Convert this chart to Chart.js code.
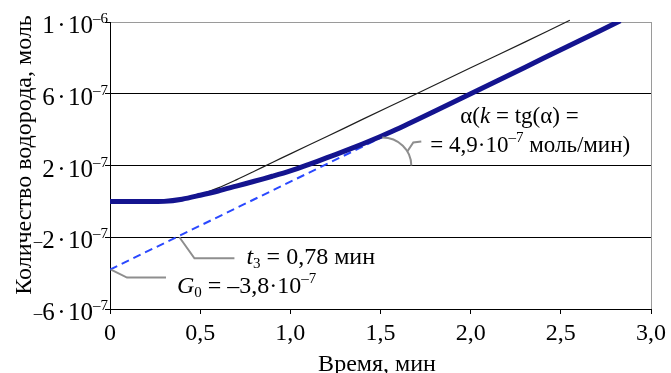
<!DOCTYPE html>
<html>
<head>
<meta charset="utf-8">
<script src="https://cdn.jsdelivr.net/npm/chart.js@4.4.1/dist/chart.umd.min.js"></script>
<style>
  html, body { margin: 0; padding: 0; background: #fff; }
</style>
</head>
<body>
<canvas id="grafico" width="671" height="373"></canvas>
<script>
// --- datos ---
const tiempoMedido = [0, 0.1, 0.2, 0.3, 0.4, 0.5, 0.6, 0.7, 0.8, 0.9, 1.0, 1.1, 1.2, 1.3, 1.4, 1.5, 1.6, 1.8, 2.0, 2.2, 2.4, 2.6, 2.83];
const hidrogenoMedido = [0, 0, 0, 0, 0.12e-7, 0.34e-7, 0.58e-7, 0.85e-7, 1.12e-7, 1.4e-7, 1.7e-7, 2.05e-7, 2.42e-7, 2.8e-7, 3.2e-7, 3.62e-7, 4.06e-7, 5.02e-7, 6.0e-7, 6.98e-7, 7.96e-7, 8.94e-7, 10.07e-7];

const tiempoModelo = [0.3, 0.4, 0.5, 0.6, 0.7, 0.8, 0.9, 1.0, 1.2, 1.4, 1.7, 2.0, 2.3, 2.55];
const hidrogenoModelo = [0, 0.1e-7, 0.38e-7, 0.75e-7, 1.2e-7, 1.68e-7, 2.17e-7, 2.65e-7, 3.6e-7, 4.57e-7, 6.0e-7, 7.45e-7, 8.88e-7, 10.1e-7];

const tiempoTangente = [0, 2.82];
const hidrogenoTangente = [-3.8e-7, 1.0e-6];

const xTicks = [0, 0.5, 1.0, 1.5, 2.0, 2.5, 3.0];
const xTickLabels = ['0', '0,5', '1,0', '1,5', '2,0', '2,5', '3,0'];
const yTicks = [-6e-7, -2e-7, 2e-7, 6e-7, 1e-6];
const yTickSigno = ['–', '–', '', '', ''];
const yTickMantisa = ['6', '2', '2', '6', '1'];
const yTickExponente = ['–7', '–7', '–7', '–7', '–6'];

const SERIF = '"Liberation Serif", "Times New Roman", serif';
const GRIS = '#8e8e8e';

function pares(xs, ys) {
    return xs.map((x, i) => ({ x: x, y: ys[i] }));
}

function fuente(p, base) {
    const size = p.size || ((p.sup || p.sub) ? 15 : base);
    return (p.it ? 'italic ' : '') + size + 'px ' + SERIF;
}

// texto con subíndices / superíndices; {gap} deja un hueco en px
function textoRico(ctx, x, y, partes, align, base) {
    base = base || 24;
    let total = 0;
    partes.forEach(p => {
        if (p.gap) { p.w = p.gap; total += p.gap; return; }
        ctx.font = fuente(p, base);
        p.w = ctx.measureText(p.t).width;
        total += p.w;
    });
    let cx = align === 'right' ? x - total : x;
    ctx.textAlign = 'left';
    ctx.textBaseline = 'alphabetic';
    partes.forEach(p => {
        if (!p.gap) {
            ctx.font = fuente(p, base);
            const dy = p.sup ? -10 : (p.sub ? 4 : (p.dy || 0));
            ctx.fillText(p.t, cx, y + dy);
        }
        cx += p.w;
    });
}

function linea(ctx, puntos) {
    ctx.beginPath();
    ctx.moveTo(puntos[0][0], puntos[0][1]);
    for (let i = 1; i < puntos.length; i++) ctx.lineTo(puntos[i][0], puntos[i][1]);
    ctx.stroke();
}

const anotaciones = {
    id: 'anotaciones',
    afterDraw(chart) {
        const ctx = chart.ctx;
        const xs = chart.scales.x, ys = chart.scales.y;
        const area = chart.chartArea;
        const px = v => xs.getPixelForValue(v);
        const py = v => ys.getPixelForValue(v);

        ctx.save();
        // borde derecho gris
        ctx.strokeStyle = '#9a9a9a';
        ctx.lineWidth = 1;
        linea(ctx, [[area.right + 0.5, area.top], [area.right + 0.5, area.bottom]]);

        ctx.fillStyle = '#000';
        // etiquetas eje Y
        yTicks.forEach((v, i) => {
            textoRico(ctx, area.left - 2, py(v) + 11, [
                { t: yTickSigno[i], size: 17, dy: -2 },
                { t: yTickMantisa[i] }, { gap: 2.5 }, { t: '·' }, { gap: 2.5 }, { t: '10' },
                { t: yTickExponente[i], sup: true }
            ], 'right', 25);
        });

        // títulos de ejes
        ctx.font = '24px ' + SERIF;
        ctx.textAlign = 'center';
        ctx.textBaseline = 'alphabetic';
        ctx.fillText('Время, мин', 377, 371);
        ctx.save();
        ctx.translate(31, 155);
        ctx.rotate(-Math.PI / 2);
        ctx.fillText('Количество водорода, моль', 0, 0);
        ctx.restore();

        // líneas guía
        ctx.strokeStyle = GRIS;
        ctx.lineWidth = 2;
        const a = { x: px(1.51), y: py(2e-7) };
        ctx.beginPath();
        ctx.ellipse(a.x, a.y, 29, 28, 0, -Math.PI / 2, 0);
        ctx.stroke();
        linea(ctx, [[a.x + 25, a.y - 14], [a.x + 31, a.y - 23], [a.x + 39, a.y - 24]]);

        const t3 = { x: px(0.385), y: py(-2e-7) };
        linea(ctx, [[t3.x, t3.y], [t3.x + 15, t3.y + 21], [t3.x + 55, t3.y + 21]]);

        const g0 = { x: px(0), y: py(-3.8e-7) };
        linea(ctx, [[g0.x + 1, g0.y], [g0.x + 17, g0.y + 8], [g0.x + 56, g0.y + 8]]);

        // textos
        ctx.fillStyle = '#000';
        textoRico(ctx, a.x + 78, a.y - 43, [{ t: 'α(' }, { t: 'k', it: true }, { t: ' = tg(α) =' }], 'left', 23);
        textoRico(ctx, a.x + 48, a.y - 14, [{ t: '= 4,9·10' }, { t: '–7', sup: true }, { t: ' моль/мин)' }], 'left', 23);
        textoRico(ctx, t3.x + 67, t3.y + 27, [{ t: 't', it: true }, { t: '3', sub: true }, { t: ' = 0,78 мин' }], 'left', 24);
        textoRico(ctx, g0.x + 67, g0.y + 23, [{ t: 'G', it: true }, { t: '0', sub: true }, { t: ' = –3,8·10' }, { t: '–7', sup: true }], 'left', 24);
        ctx.restore();
    }
};

const ctx = document.getElementById('grafico').getContext('2d');
new Chart(ctx, {
    type: 'line',
    data: {
        datasets: [
            {
                label: 'medido',
                data: pares(tiempoMedido, hidrogenoMedido),
                borderColor: '#14148f',
                borderWidth: 5,
                pointRadius: 0,
                tension: 0.3,
                order: 0
            },
            {
                label: 'tangente',
                data: pares(tiempoTangente, hidrogenoTangente),
                borderColor: '#2a48ff',
                borderWidth: 2,
                borderDash: [8, 5],
                pointRadius: 0,
                order: 1
            },
            {
                label: 'modelo',
                data: pares(tiempoModelo, hidrogenoModelo),
                borderColor: '#1e1e1e',
                borderWidth: 1.2,
                pointRadius: 0,
                tension: 0.3,
                clip: false,
                order: 2
            }
        ]
    },
    options: {
        responsive: false,
        animation: false,
        devicePixelRatio: 1,
        layout: { padding: { top: 22, right: 14, left: 0, bottom: 0 } },
        plugins: { legend: { display: false }, tooltip: { enabled: false } },
        scales: {
            x: {
                type: 'linear',
                min: 0,
                max: 3,
                afterBuildTicks: s => { s.ticks = xTicks.map(v => ({ value: v })); },
                afterFit: s => { s.height = 64; },
                ticks: {
                    callback: (v, i) => xTickLabels[i],
                    font: { family: SERIF, size: 24 },
                    color: '#000',
                    maxRotation: 0,
                    autoSkip: false,
                    padding: 5
                },
                grid: { drawOnChartArea: false, tickLength: 5, color: '#000' },
                border: { color: '#000', width: 1 }
            },
            y: {
                type: 'linear',
                min: -6e-7,
                max: 1e-6,
                afterBuildTicks: s => { s.ticks = yTicks.map(v => ({ value: v })); },
                afterFit: s => { s.width = 110; },
                ticks: { callback: () => '', color: 'rgba(0,0,0,0)' },
                grid: {
                    color: c => (c.tick && c.tick.value === 1e-6) ? '#9a9a9a' : '#000',
                    tickColor: '#000',
                    tickLength: 5,
                    lineWidth: 1
                },
                border: { color: '#000', width: 1 }
            }
        }
    },
    plugins: [anotaciones]
});
</script>
</body>
</html>
